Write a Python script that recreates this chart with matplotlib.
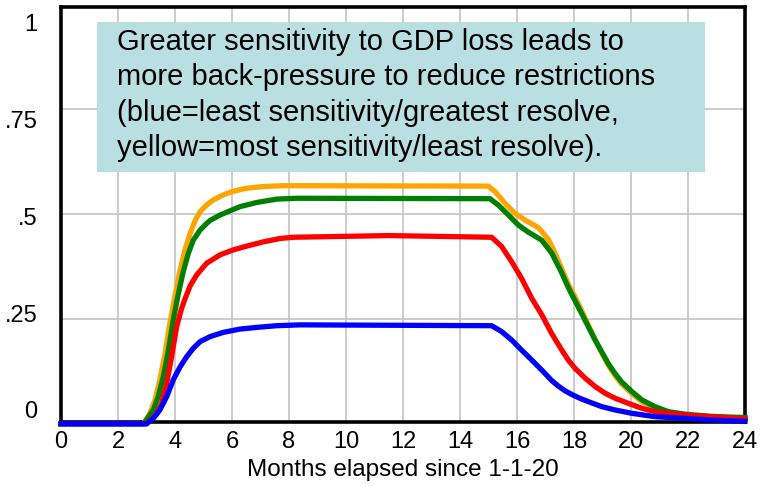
import matplotlib
matplotlib.use("Agg")
import matplotlib.pyplot as plt
from matplotlib.patches import Rectangle
from matplotlib.ticker import FixedLocator, NullFormatter

plt.rcParams['font.family'] = ['Liberation Sans', 'DejaVu Sans']

# Simulated share of restrictions over time, one run per GDP-loss sensitivity
t_yellow = [0, 2.9, 3.12, 3.30, 3.47, 3.65, 3.82, 4.0, 4.18, 4.35, 4.53, 4.70, 4.88,
            5.11, 5.34, 5.69, 6.05, 6.52, 7.10, 7.8, 14.99, 15.23, 15.58, 15.93,
            16.28, 16.75, 17.1, 17.33, 17.57, 17.8, 18.04, 18.27, 18.5, 18.74, 18.97,
            19.2, 19.44, 19.67, 20.03, 20.38, 20.84, 21.31, 21.89, 22.77, 23.47, 24]
v_yellow = [0, 0, 0.025, 0.057, 0.105, 0.168, 0.240, 0.305, 0.367, 0.415, 0.454, 0.484, 0.506,
            0.522, 0.534, 0.546, 0.555, 0.562, 0.566, 0.568, 0.567, 0.554, 0.526, 0.502,
            0.486, 0.468, 0.440, 0.408, 0.370, 0.333, 0.302, 0.270, 0.236, 0.201, 0.170,
            0.140, 0.115, 0.095, 0.072, 0.053, 0.037, 0.026, 0.020, 0.015, 0.012, 0.010]

t_green = [0, 2.9, 3.24, 3.41, 3.59, 3.77, 3.94, 4.12, 4.29, 4.47, 4.64, 4.88, 5.11,
           5.23, 5.58, 6.28, 6.87, 7.57, 8.27, 15.05, 15.34, 15.70, 16.05, 16.4,
           16.87, 17.22, 17.57, 17.8, 18.04, 18.27, 18.5, 18.74, 18.97, 19.2, 19.44,
           19.67, 20.03, 20.38, 20.84, 21.31, 21.89, 22.77, 23.47, 24]
v_green = [0, 0, 0.033, 0.065, 0.112, 0.176, 0.248, 0.311, 0.363, 0.407, 0.438, 0.462, 0.478,
           0.485, 0.498, 0.518, 0.528, 0.536, 0.538, 0.537, 0.522, 0.498, 0.474, 0.457,
           0.438, 0.407, 0.360, 0.325, 0.293, 0.263, 0.232, 0.200, 0.172, 0.144, 0.120,
           0.100, 0.077, 0.057, 0.041, 0.029, 0.023, 0.018, 0.016, 0.015]

t_red = [0, 3.0, 3.36, 3.53, 3.71, 3.88, 4.06, 4.23, 4.35, 4.53, 4.76, 5.11, 5.58,
         6.05, 6.52, 7.10, 7.68, 8.15, 11.5, 15.11, 15.46, 15.81, 16.16, 16.52,
         16.87, 17.22, 17.57, 17.8, 18.04, 18.39, 18.74, 19.09, 19.44, 19.9,
         20.38, 20.84, 21.89, 22.77, 24]
v_red = [0, 0, 0.025, 0.049, 0.097, 0.160, 0.232, 0.275, 0.298, 0.329, 0.355, 0.383, 0.403,
         0.415, 0.424, 0.434, 0.442, 0.445, 0.449, 0.445, 0.423, 0.387, 0.347, 0.299,
         0.260, 0.215, 0.176, 0.152, 0.132, 0.109, 0.089, 0.073, 0.061, 0.049,
         0.037, 0.029, 0.021, 0.017, 0.012]

t_blue = [0, 3.0, 3.24, 3.47, 3.71, 3.94, 4.18, 4.41, 4.64, 4.88, 5.23, 5.69, 6.28,
          6.87, 7.57, 8.39, 15.11, 15.46, 15.81, 16.16, 16.52, 16.87, 17.22, 17.45,
          17.68, 17.92, 18.2, 18.5, 18.97, 19.44, 20.03, 20.84, 21.89, 22.8, 24]
v_blue = [0, 0, 0.013, 0.033, 0.065, 0.105, 0.136, 0.160, 0.180, 0.196, 0.208, 0.218, 0.226,
          0.230, 0.234, 0.236, 0.234, 0.220, 0.200, 0.176, 0.152, 0.128, 0.103, 0.090,
          0.079, 0.070, 0.061, 0.053, 0.041, 0.033, 0.025, 0.017, 0.013, 0.009, 0.006]

x_ticks = list(range(0, 25, 2))
y_ticks = [0, 0.25, 0.5, 0.75, 1.0]
y_tick_labels = ["0", ".25", ".5", ".75", "1"]
x_label = "Months elapsed since 1-1-20"
note = ("Greater sensitivity to GDP loss leads to\n"
        "more back-pressure to reduce restrictions\n"
        "(blue=least sensitivity/greatest resolve,\n"
        "yellow=most sensitivity/least resolve).")

W, H = 761, 486
fig = plt.figure(figsize=(W / 100, H / 100), dpi=100)
ax_l, ax_r, ax_t, ax_b = 61, 745, 6.7, 421.7
ax = fig.add_axes([ax_l / W, 1 - ax_b / H, (ax_r - ax_l) / W, (ax_b - ax_t) / H])

ax.set_xlim(0, 24)
ax.set_ylim(0.005, 0.995)

# grid
ax.set_xticks(x_ticks)
ax.yaxis.set_major_locator(FixedLocator(y_ticks))
ax.yaxis.set_major_formatter(NullFormatter())
ax.grid(True, color="#c8c8c8", linewidth=1.3, zorder=0)
ax.set_axisbelow(True)

# value labels spread evenly along the left edge
label_pos = [0.033 + 0.924 * v for v in y_ticks]
ax.yaxis.set_minor_locator(FixedLocator(label_pos))
ax.set_yticklabels(y_tick_labels, minor=True)
ax.tick_params(axis="y", which="both", length=0, pad=17, labelsize=17)
ax.tick_params(axis="x", length=0, pad=7, labelsize=17)

for side in ["left", "bottom", "top", "right"]:
    ax.spines[side].set_linewidth(2.6)
    ax.spines[side].set_color("black")

lw = 3.8
ax.plot(t_yellow, v_yellow, color="#ffa500", lw=lw, clip_on=False, zorder=3)
ax.plot(t_green, v_green, color="#008000", lw=lw, clip_on=False, zorder=4)
ax.plot(t_red, v_red, color="#ff0000", lw=lw, clip_on=False, zorder=5)
ax.plot(t_blue, v_blue, color="#0000ff", lw=lw, clip_on=False, zorder=6)

ax.set_xlabel(x_label, fontsize=17.5, labelpad=4)

# annotation box
bx0, bx1, by0, by1 = 97, 705, 22, 172
ax.add_patch(Rectangle(((bx0 - ax_l) / (ax_r - ax_l), (ax_b - by1) / (ax_b - ax_t)),
                       (bx1 - bx0) / (ax_r - ax_l), (by1 - by0) / (ax_b - ax_t),
                       transform=ax.transAxes, facecolor="#b9dfe2", edgecolor="none",
                       zorder=2))
ax.text((117 - ax_l) / (ax_r - ax_l), (ax_b - 95) / (ax_b - ax_t), note,
        transform=ax.transAxes, ha="left", va="center", fontsize=21,
        linespacing=1.33, zorder=7)

fig.savefig("out.png", dpi=100)
